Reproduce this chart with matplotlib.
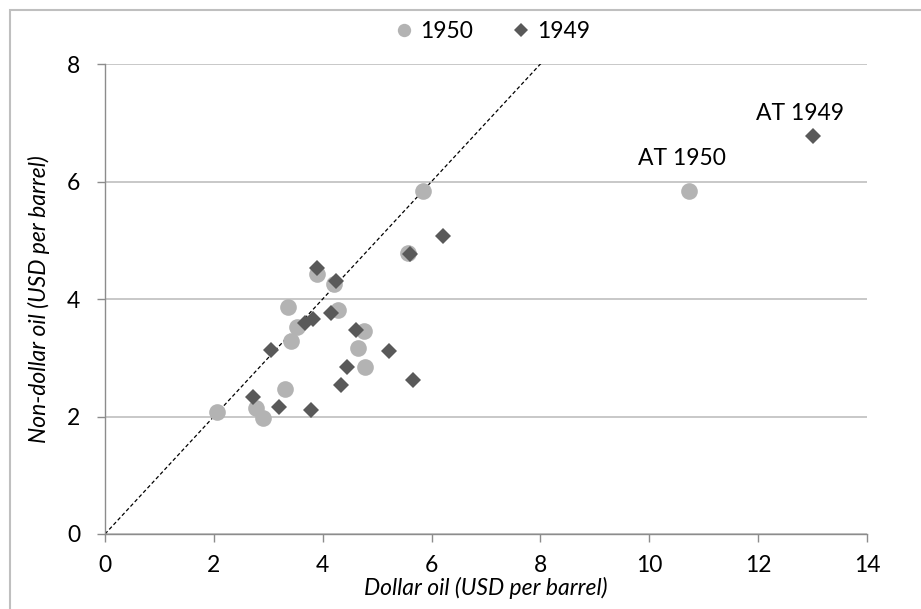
import matplotlib
matplotlib.use("Agg")
import matplotlib.pyplot as plt
from matplotlib.patches import Rectangle

# Data (USD per barrel)
dollar_1950 = [5.84, 5.57, 3.90, 4.21, 3.36, 4.29, 3.52, 4.76, 3.41, 4.65, 4.78, 3.31, 2.05, 2.77, 2.90, 10.73]
nondollar_1950 = [5.84, 4.79, 4.42, 4.25, 3.87, 3.82, 3.53, 3.46, 3.28, 3.17, 2.85, 2.47, 2.07, 2.15, 1.97, 5.84]
dollar_1949 = [6.21, 5.61, 3.90, 4.24, 4.15, 3.83, 3.68, 4.62, 3.05, 5.22, 4.44, 5.66, 4.34, 2.72, 3.20, 3.78, 13.00]
nondollar_1949 = [5.07, 4.77, 4.53, 4.30, 3.76, 3.66, 3.60, 3.48, 3.14, 3.11, 2.85, 2.62, 2.53, 2.34, 2.17, 2.11, 6.78]
diag = [0, 9]
label_1950 = "AT 1950"
label_1949 = "AT 1949"
xticks = [0, 2, 4, 6, 8, 10, 12, 14]
yticks = [0, 2, 4, 6, 8]

plt.rcParams['font.family'] = ['Lato', 'DejaVu Sans']
FS = 16.5

fig = plt.figure(figsize=(9.21, 6.09), dpi=100)
ax = fig.add_axes([105/921, 1-534/609, (867-105)/921, (534-64)/609])

axis_col = '#8c8c8c'
grid_col = '#bfbfbf'

ax.plot(diag, diag, linestyle=(0, (3, 2)), color='black', linewidth=0.9, zorder=2)
ax.plot(dollar_1950, nondollar_1950, linestyle='none', marker='o', markersize=12,
        color='#b3b3b3', markeredgewidth=0, label='1950', zorder=3)
ax.plot(dollar_1949, nondollar_1949, linestyle='none', marker='D', markersize=8.3,
        color='#595959', markeredgewidth=0, label='1949', zorder=4)

ax.annotate(label_1950, (dollar_1950[-1], nondollar_1950[-1]), xytext=(-5, 23),
            textcoords='offset points', ha='center', va='center', fontsize=FS)
ax.annotate(label_1949, (dollar_1949[-1], nondollar_1949[-1]), xytext=(-9, 16),
            textcoords='offset points', ha='center', va='center', fontsize=FS)

ax.set_xlim(0, 14)
ax.set_ylim(0, 8)
ax.set_xticks(xticks)
ax.set_yticks(yticks)
ax.set_xticklabels([str(t) for t in xticks])
ax.set_yticklabels([str(t) for t in yticks])
ax.yaxis.grid(True, color=grid_col, linewidth=1.2)
ax.set_axisbelow(True)
for s in ['top', 'right']:
    ax.spines[s].set_visible(False)
for s in ['left', 'bottom']:
    ax.spines[s].set_color(axis_col)
    ax.spines[s].set_linewidth(1.0)
ax.tick_params(axis='both', direction='out', length=6, color=axis_col, labelsize=FS, width=1.0)
ax.tick_params(axis='x', pad=9)
ax.tick_params(axis='y', pad=12)

ax.set_xlabel('Dollar oil (USD per barrel)', fontsize=FS, style='italic', labelpad=1)
ax.set_ylabel('Non-dollar oil (USD per barrel)', fontsize=FS, style='italic', labelpad=12)

leg = ax.legend(loc='center', bbox_to_anchor=(490/921, 1-32/609), bbox_transform=fig.transFigure,
                ncol=2, frameon=False, fontsize=FS, handletextpad=0.1, columnspacing=1.5,
                handlelength=1.2, markerscale=0.8)

fig.patches.append(Rectangle((10/921, -0.01), 1.0, 1-10/609 + 0.01, transform=fig.transFigure,
                             fill=False, edgecolor='#bfbfbf', linewidth=1.5))

fig.savefig('out.png', dpi=100)
